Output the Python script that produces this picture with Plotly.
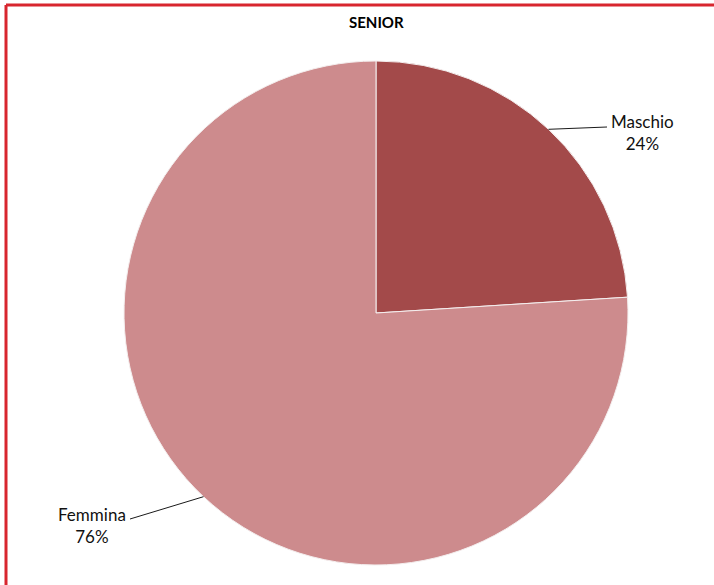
import math
import plotly.graph_objects as go

# Gender split of the SENIOR group
categories = ["Maschio", "Femmina"]
values = [24, 76]
colors = ["#a34a4a", "#cd8b8d"]

W, H = 714, 585
CX, CY, R = 376, 313, 252  # pie centre and radius in pixels


def px(x):
    return x / W


def py(y):
    return 1 - y / H


fig = go.Figure(
    go.Pie(
        labels=categories,
        values=values,
        sort=False,
        direction="clockwise",
        rotation=0,
        textinfo="none",
        hoverinfo="label+percent",
        marker=dict(colors=colors, line=dict(color="#f4eeee", width=1)),
        domain=dict(x=[px(CX - R), px(CX + R)], y=[py(CY + R), py(CY - R)]),
        showlegend=False,
    )
)

# Leader lines and outside labels, anchored at each slice's mid-angle
total = sum(values)
label_cfg = [
    dict(end=(607, 127), text_x=642, text_y=133),
    dict(end=(130, 519), text_x=92, text_y=525),
]
shapes = []
annotations = []
start = 0.0
for name, val, cfg in zip(categories, values, label_cfg):
    frac = val / total
    mid = (start + frac / 2) * 2 * math.pi
    start += frac
    ex = CX + R * math.sin(mid)
    ey = CY - R * math.cos(mid)
    shapes.append(
        dict(
            type="line", xref="paper", yref="paper",
            x0=px(ex), y0=py(ey), x1=px(cfg["end"][0]), y1=py(cfg["end"][1]),
            line=dict(color="#1a1a1a", width=1),
        )
    )
    annotations.append(
        dict(
            x=px(cfg["text_x"]), y=py(cfg["text_y"]), xref="paper", yref="paper",
            text=f"{name}<br>{round(frac * 100)}%", showarrow=False,
            xanchor="center", yanchor="middle", align="center",
            font=dict(family="Lato, Open Sans, sans-serif", size=17, color="#111111"),
        )
    )

# Red frame (top and left edges)
shapes.append(dict(type="line", xref="paper", yref="paper",
                   x0=px(6), y0=py(5), x1=1.0, y1=py(5),
                   line=dict(color="#d8262e", width=3)))
shapes.append(dict(type="line", xref="paper", yref="paper",
                   x0=px(6), y0=py(5), x1=px(6), y1=0.0,
                   line=dict(color="#d8262e", width=3)))

annotations.append(
    dict(
        x=px(376), y=py(22), xref="paper", yref="paper",
        text="<b>SENIOR</b>", showarrow=False, xanchor="center", yanchor="middle",
        font=dict(family="Lato, Open Sans, sans-serif", size=15, color="#000000"),
    )
)

fig.update_layout(
    width=W, height=H,
    margin=dict(l=0, r=0, t=0, b=0),
    paper_bgcolor="white", plot_bgcolor="white",
    shapes=shapes, annotations=annotations,
)

fig.write_html("out.html")
